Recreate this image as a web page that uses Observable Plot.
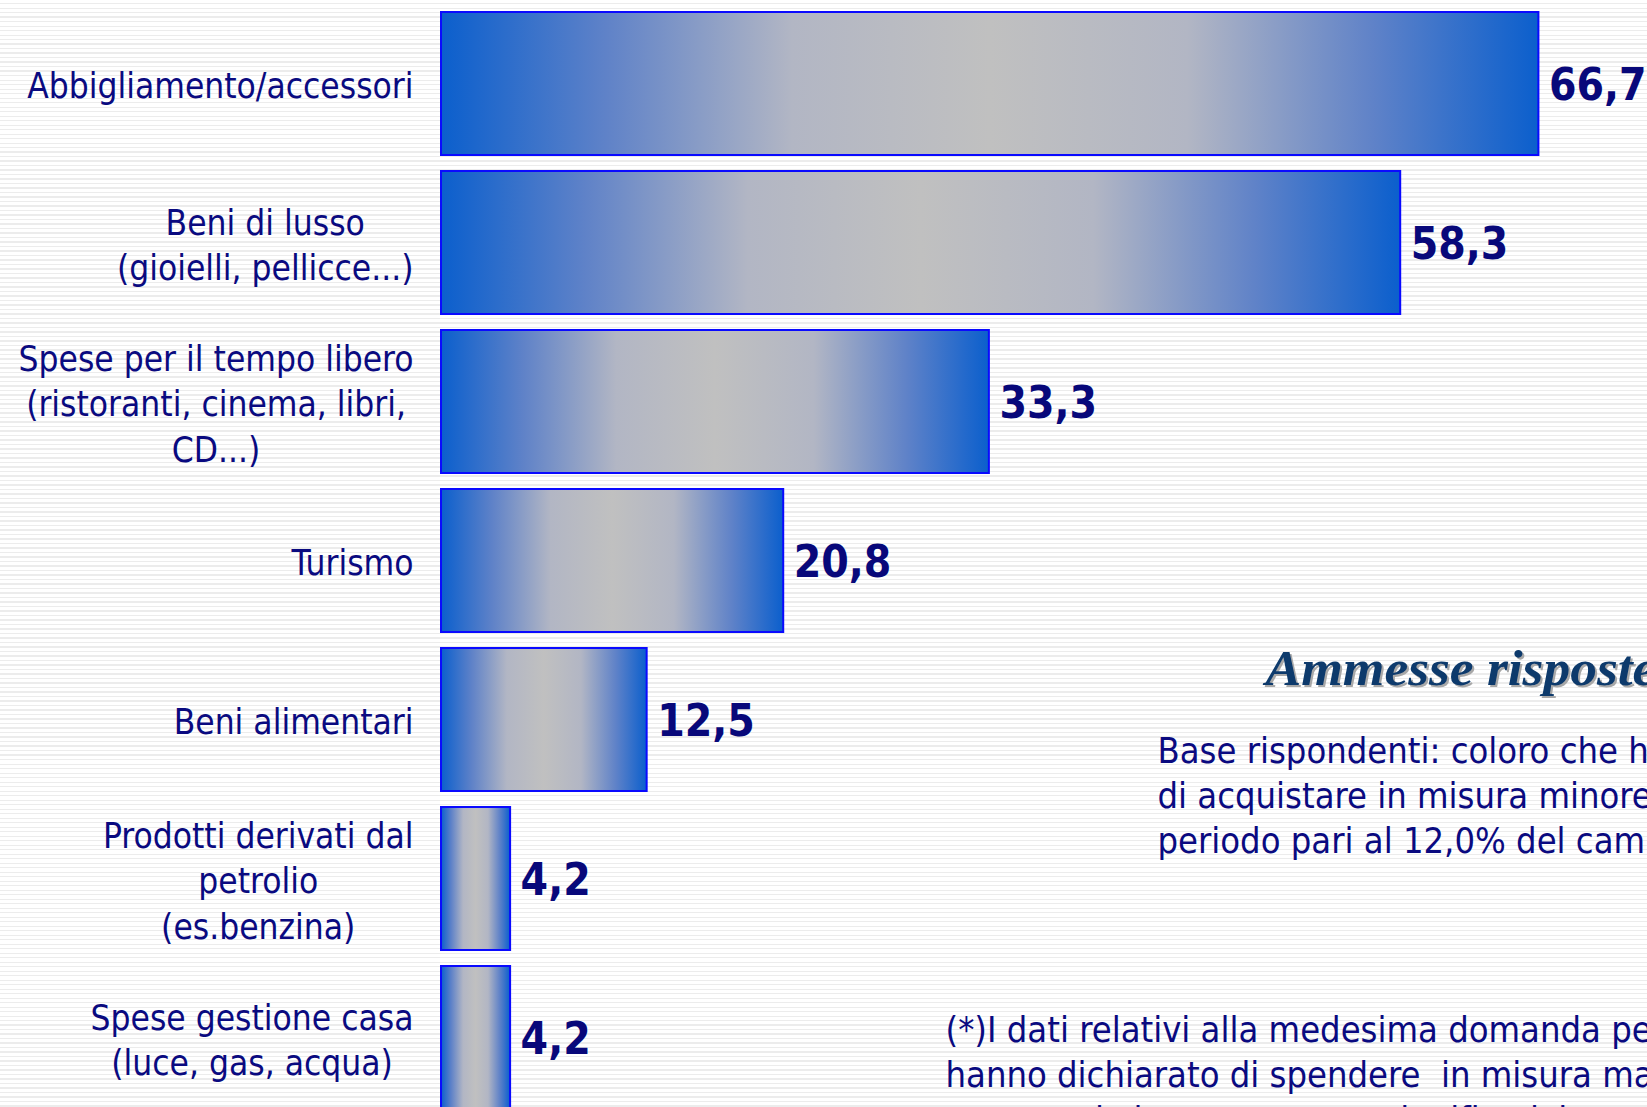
<!DOCTYPE html>
<html>
<head>
<meta charset="utf-8">
<script src="https://cdn.jsdelivr.net/npm/d3@7"></script>
<script src="https://cdn.jsdelivr.net/npm/@observablehq/plot@0.6"></script>
<style>
  html, body {
    margin: 0; padding: 0; width: 1647px; height: 1107px; overflow: hidden;
    background: repeating-linear-gradient(to bottom, #ffffff 0px, #ffffff 3px, #ececec 3px, #ececec 4.5px);
  }
  #chart { position: relative; }
</style>
</head>
<body>
<div id="chart"></div>
<script>
// ---- data ----
const categories = [
  "Abbigliamento/accessori",
  "Beni di lusso\n(gioielli, pellicce...)",
  "Spese per il tempo libero\n(ristoranti, cinema, libri,\nCD...)",
  "Turismo",
  "Beni alimentari",
  "Prodotti derivati dal\npetrolio\n(es.benzina)",
  "Spese gestione casa\n(luce, gas, acqua)"
];
const values = [66.7, 58.3, 33.3, 20.8, 12.5, 4.2, 4.2];
const valueLabels = ["66,7", "58,3", "33,3", "20,8", "12,5", "4,2", "4,2"];
const xDomain = [0, 73.3];

const noteTitle = "Ammesse risposte multiple";
const noteBase = [
  "Base rispondenti: coloro che hanno dichiarato",
  "di acquistare in misura minore nello stesso",
  "periodo pari al 12,0% del campione"
];
const noteFootnote = [
  "(*)I dati relativi alla medesima domanda per coloro che",
  "hanno dichiarato di spendere  in misura maggiore non",
  "sono statisticamente poco significativi"
];

// ---- styling ----
const SANS = "'DejaVu Sans Condensed', 'DejaVu Sans', Tahoma, sans-serif";
const SERIF = "'Liberation Serif', 'Times New Roman', serif";
const NAVY = "#0a0a80";
const LABEL_SIZE = 35;
const NOTE_SIZE = 36;
const LABEL_GAP = 28;

const data = categories.map((c, i) => ({cat: c, value: values[i], label: valueLabels[i]}));

// measuring helper for centring multi-line category labels
const measSvg = d3.select("body").append("svg")
  .attr("width", 0).attr("height", 0)
  .style("position", "absolute").style("font-stretch", "condensed");
function textWidth(s, size, weight) {
  const t = measSvg.append("text")
    .attr("font-family", SANS).attr("font-size", size)
    .attr("font-weight", weight || "normal").text(s);
  const w = t.node().getComputedTextLength();
  t.remove();
  return w;
}

const defsMark = () => {
  const defs = d3.create("svg:defs");
  const g = defs.append("linearGradient").attr("id", "barGrad")
    .attr("x1", 0).attr("x2", 1).attr("y1", 0).attr("y2", 0);
  [[0, "#0b5fcd"], [0.15, "#5f82c8"], [0.32, "#b2b6c4"], [0.5, "#c0c0c0"],
   [0.68, "#b2b6c4"], [0.85, "#5f82c8"], [1, "#0b5fcd"]].forEach(([o, c]) =>
    g.append("stop").attr("offset", o).attr("stop-color", c));
  return defs.node();
};

const labelMarks = data.map(d => {
  const w = d3.max(d.cat.split("\n"), l => textWidth(l, LABEL_SIZE));
  return Plot.text([d], {
    x: () => 0, y: "cat", text: "cat",
    textAnchor: "middle", lineAnchor: "middle", lineHeight: 1.29,
    dx: -(LABEL_GAP + w / 2), fontSize: LABEL_SIZE, fill: NAVY
  });
});

const TITLE_SIZE = 50;

const chart = Plot.plot({
  width: 1647,
  height: 1110,
  marginLeft: 441,
  marginRight: 0,
  marginTop: 12,
  marginBottom: 0,
  x: {domain: xDomain, axis: null},
  y: {domain: categories, axis: null, paddingInner: 0.1, paddingOuter: 0, align: 0.5},
  style: {background: "transparent", fontFamily: SANS, fontStretch: "condensed", overflow: "visible"},
  marks: [
    defsMark,
    Plot.barX(data, {x: "value", y: "cat", fill: "url(#barGrad)", stroke: "#0a0aff", strokeWidth: 2}),
    Plot.text(data, {
      x: "value", y: "cat", text: "label", textAnchor: "start", lineAnchor: "middle",
      dx: 10, dy: 2, fontSize: 44, fontWeight: "bold", fill: "#08087a"
    }),
    ...labelMarks,
    // title with shadow
    Plot.text([noteTitle], {
      frameAnchor: "top-left", text: d => d, textAnchor: "start", lineAnchor: "middle",
      dx: 824 + 2, dy: 656 + 2, fontFamily: SERIF, fontStyle: "italic", fontWeight: "bold",
      fontSize: TITLE_SIZE, fill: "#a8a8a8"
    }),
    Plot.text([noteTitle], {
      frameAnchor: "top-left", text: d => d, textAnchor: "start", lineAnchor: "middle",
      dx: 824, dy: 656, fontFamily: SERIF, fontStyle: "italic", fontWeight: "bold",
      fontSize: TITLE_SIZE, fill: "#0d3a6c"
    }),
    Plot.text([noteBase.join("\n")], {
      frameAnchor: "top-left", text: d => d, textAnchor: "start", lineAnchor: "middle",
      lineHeight: 1.25, dx: 716, dy: 781, fontSize: NOTE_SIZE, fill: NAVY
    }),
    Plot.text([noteFootnote.join("\n")], {
      frameAnchor: "top-left", text: d => d, textAnchor: "start", lineAnchor: "middle",
      lineHeight: 1.25, dx: 504, dy: 1060, fontSize: NOTE_SIZE, fill: NAVY
    })
  ]
});

document.getElementById("chart").appendChild(chart);

// widen the serif title (stretched WordArt-like lettering in the original)
d3.select(chart).selectAll("text").filter(function () { return this.textContent === noteTitle; })
  .each(function () {
    const L = this.getComputedTextLength();
    d3.select(this).attr("textLength", L * 1.07).attr("lengthAdjust", "spacingAndGlyphs");
  });
</script>
</body>
</html>
